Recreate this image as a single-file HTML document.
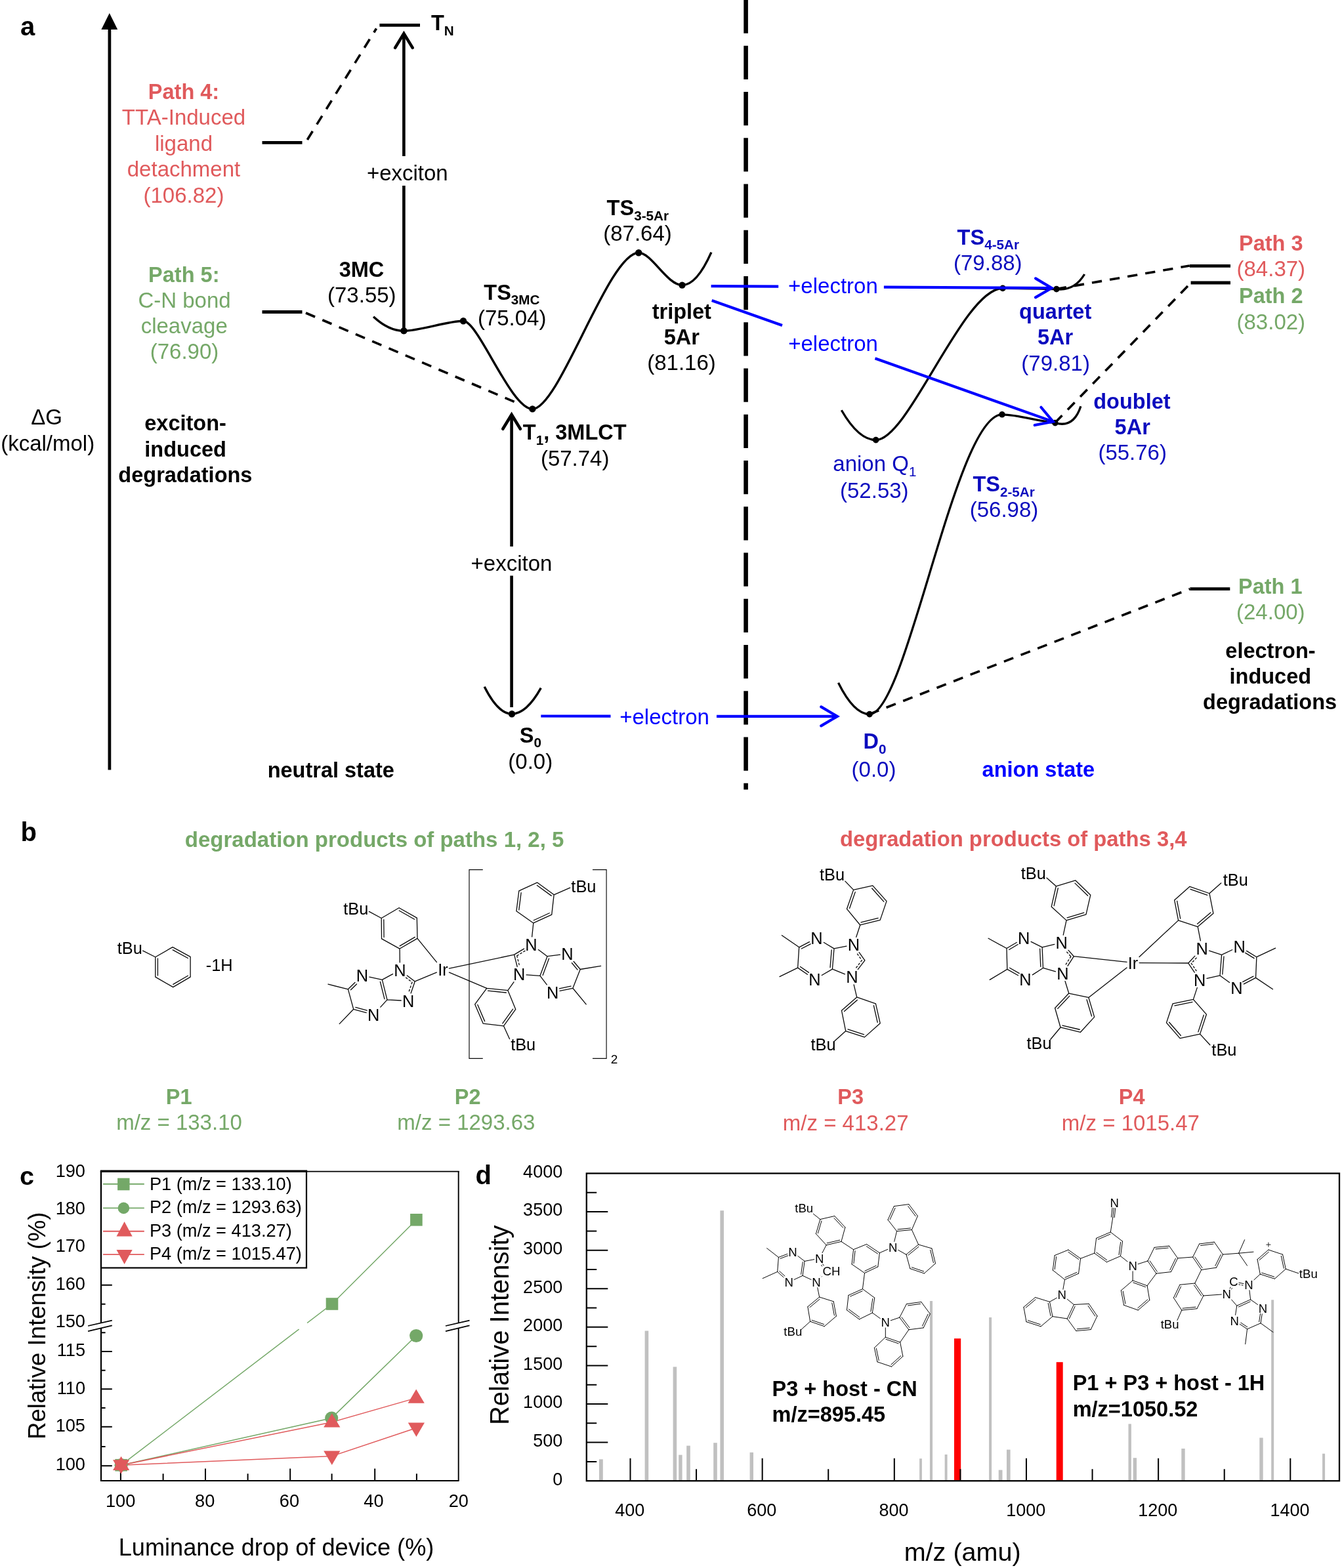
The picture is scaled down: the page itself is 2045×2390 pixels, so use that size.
<!DOCTYPE html>
<html><head><meta charset="utf-8"><title>Figure</title>
<style>html,body{margin:0;padding:0;background:#fff}svg{display:block}text{font-family:'Liberation Sans', Arial, Helvetica, sans-serif}</style>
</head><body>
<svg width="2045" height="2390" viewBox="0 0 2045 2390">
<rect width="2045" height="2390" fill="#fff"/>
<!-- panel a -->
<text x="31" y="53.5" font-size="40" font-weight="bold">a</text>
<line x1="166.9" y1="1173.5" x2="166.9" y2="42" stroke="#000" stroke-width="4.7"/>
<polygon points="166.8,20 154.4,45 179.2,45" fill="#000"/>
<text x="71" y="646.5" font-size="33" text-anchor="middle">&#916;G</text>
<text x="72.7" y="687.1" font-size="33" text-anchor="middle">(kcal/mol)</text>
<path d="M1136.6,0V50.8M1136.6,69.75V121.05M1136.6,140V191.3M1136.6,210.25V261.55M1136.6,280.5V331.8M1136.6,350.75V402.05M1136.6,421V472.3M1136.6,491.25V542.55M1136.6,561.5V612.8M1136.6,631.75V683.05M1136.6,702V753.3M1136.6,772.25V823.55M1136.6,842.5V893.8M1136.6,912.75V964.05M1136.6,983V1034.3M1136.6,1053.25V1104.55M1136.6,1123.5V1174.8M1136.6,1193.75V1203.5" fill="none" stroke="#000" stroke-width="6.6"/>
<line x1="578.4" y1="38.4" x2="640" y2="38.4" stroke="#000" stroke-width="4.8"/>
<line x1="399.5" y1="217.4" x2="460.5" y2="217.4" stroke="#000" stroke-width="4.8"/>
<line x1="399.5" y1="475.5" x2="460.5" y2="475.5" stroke="#000" stroke-width="4.8"/>
<line x1="1813" y1="405.4" x2="1875" y2="405.4" stroke="#000" stroke-width="4.8"/>
<line x1="1814.6" y1="431" x2="1875" y2="431" stroke="#000" stroke-width="4.8"/>
<line x1="1813.4" y1="897.7" x2="1874.3" y2="897.7" stroke="#000" stroke-width="4.8"/>
<line x1="468.3" y1="213" x2="573.5" y2="43.5" stroke="#000" stroke-width="3.6" stroke-dasharray="15.3 12.2"/>
<line x1="466" y1="477" x2="786.9" y2="613.7" stroke="#000" stroke-width="3.6" stroke-dasharray="15.3 12.2"/>
<line x1="1609.8" y1="440.5" x2="1812.8" y2="405" stroke="#000" stroke-width="3.6" stroke-dasharray="15.3 12.2"/>
<line x1="1607.8" y1="644.3" x2="1814.8" y2="431" stroke="#000" stroke-width="3.6" stroke-dasharray="15.3 12.2"/>
<line x1="1325" y1="1088.5" x2="1813.2" y2="897.7" stroke="#000" stroke-width="3.6" stroke-dasharray="15.3 12.2"/>
<path d="M569.1,482.7Q592.25,504.3 615.4,504.3C639.4,504.3 682,489.3 706,489.3C729,489.3 778.4,623.4 811.4,623.4C852.4,623.4 927.2,385.3 973.2,385.3C993.2,385.3 1016.5,434.6 1039.5,434.6Q1061.7,434.6 1083.9,384.6" fill="none" stroke="#000" stroke-width="3.4"/>
<path d="M738.2,1046.7Q759.1,1088.2 780,1088.2Q802.2,1088.2 824.3,1048.7" fill="none" stroke="#000" stroke-width="3.4"/>
<path d="M1282.3,625.2Q1308.5,670.6 1334.7,670.6C1384.7,670.6 1468,439.4 1528,439.4C1555,439.4 1583,440.2 1609.9,440.6Q1637,444 1652.6,418" fill="none" stroke="#000" stroke-width="3.3"/>
<path d="M1277.5,1040.7Q1301.3,1088.6 1325.1,1088.6C1381.8,1088.6 1456,631.8 1527,631.8C1550,631.8 1580,641.5 1607.9,644.6Q1636,653 1646.9,619.3" fill="none" stroke="#000" stroke-width="3.3"/>
<circle cx="615.4" cy="504.3" r="5.2" fill="#000"/>
<circle cx="706" cy="489.3" r="5.2" fill="#000"/>
<circle cx="811.4" cy="623.4" r="5.2" fill="#000"/>
<circle cx="973.2" cy="385.3" r="5.2" fill="#000"/>
<circle cx="1039.5" cy="434.6" r="5.2" fill="#000"/>
<circle cx="780" cy="1088.2" r="5.2" fill="#000"/>
<circle cx="1334.7" cy="670.6" r="4.8" fill="#000"/>
<circle cx="1528" cy="439.4" r="4.8" fill="#000"/>
<circle cx="1609.9" cy="440.6" r="4.8" fill="#000"/>
<circle cx="1325.1" cy="1088.6" r="4.8" fill="#000"/>
<circle cx="1527" cy="631.8" r="4.8" fill="#000"/>
<circle cx="1607.9" cy="644.6" r="4.8" fill="#000"/>
<line x1="615.4" y1="500" x2="615.4" y2="283" stroke="#000" stroke-width="4.6"/>
<line x1="615.4" y1="238" x2="615.4" y2="51.1" stroke="#000" stroke-width="4.6"/>
<polyline points="602.08,72.84 615.4,51.1 628.72,72.84" fill="none" stroke="#000" stroke-width="4.6" stroke-linejoin="miter" stroke-miterlimit="10" stroke-linecap="round"/>
<line x1="779.6" y1="1078" x2="779.6" y2="877.5" stroke="#000" stroke-width="4.6"/>
<line x1="779.6" y1="833" x2="779.6" y2="632" stroke="#000" stroke-width="4.6"/>
<polyline points="766.28,653.74 779.6,632 792.92,653.74" fill="none" stroke="#000" stroke-width="4.6" stroke-linejoin="miter" stroke-miterlimit="10" stroke-linecap="round"/>
<text x="620.8" y="274.7" font-size="33" text-anchor="middle">+exciton</text>
<text x="779.5" y="870.1" font-size="33" text-anchor="middle">+exciton</text>
<line x1="824.3" y1="1091.5" x2="930.5" y2="1091.6" stroke="#0000FF" stroke-width="4.2"/>
<line x1="1092" y1="1091.8" x2="1275.86" y2="1091.9" stroke="#0000FF" stroke-width="4.2"/>
<polyline points="1251.32,1077.41 1275.86,1091.9 1251.29,1106.34" fill="none" stroke="#0000FF" stroke-width="4.2" stroke-linejoin="miter" stroke-miterlimit="10" stroke-linecap="round"/>
<text x="944.2" y="1103.7" font-size="33" fill="#0000FF">+electron</text>
<line x1="1083.6" y1="436.2" x2="1186.2" y2="436.7" stroke="#0000FF" stroke-width="4.2"/>
<line x1="1346.9" y1="437.6" x2="1602.56" y2="438.98" stroke="#0000FF" stroke-width="4.2"/>
<polyline points="1578.08,424.38 1602.56,438.98 1577.93,453.31" fill="none" stroke="#0000FF" stroke-width="4.2" stroke-linejoin="miter" stroke-miterlimit="10" stroke-linecap="round"/>
<text x="1201.1" y="447" font-size="33" fill="#0000FF">+electron</text>
<line x1="1084.7" y1="457.9" x2="1192" y2="496.02" stroke="#0000FF" stroke-width="4.2"/>
<line x1="1333.5" y1="546.28" x2="1604.7" y2="642.62" stroke="#0000FF" stroke-width="4.2"/>
<polyline points="1586.4,620.76 1604.7,642.62 1576.72,648.03" fill="none" stroke="#0000FF" stroke-width="4.2" stroke-linejoin="miter" stroke-miterlimit="10" stroke-linecap="round"/>
<text x="1201.2" y="535" font-size="33" fill="#0000FF">+electron</text>
<text x="657" y="46.4" font-size="32.5" font-weight="bold">T<tspan font-size="20.7" dy="7.7">N</tspan></text>
<text x="551" y="422.3" font-size="32.5" font-weight="bold" text-anchor="middle">3MC</text>
<text x="551.3" y="461.3" font-size="33" text-anchor="middle">(73.55)</text>
<text x="737.3" y="456.5" font-size="32.5" font-weight="bold">TS<tspan font-size="20.7" dy="7.7">3MC</tspan></text>
<text x="780.2" y="495.8" font-size="33" text-anchor="middle">(75.04)</text>
<text x="924.6" y="327.9" font-size="32.5" font-weight="bold">TS<tspan font-size="20.7" dy="7.7">3-5Ar</tspan></text>
<text x="971.5" y="367.4" font-size="33" text-anchor="middle">(87.64)</text>
<text x="1038.8" y="486.3" font-size="32.5" font-weight="bold" text-anchor="middle">triplet</text>
<text x="1038.8" y="525.3" font-size="32.5" font-weight="bold" text-anchor="middle">5Ar</text>
<text x="1038.5" y="564.3" font-size="33" text-anchor="middle">(81.16)</text>
<text x="796.8" y="670.1" font-size="32.5" font-weight="bold">T<tspan font-size="20.7" dy="7.5">1</tspan><tspan dy="-7.5">, 3MLCT</tspan></text>
<text x="876.2" y="709.8" font-size="33" text-anchor="middle">(57.74)</text>
<text x="791.7" y="1131.5" font-size="32.5" font-weight="bold">S<tspan font-size="20.7" dy="7.2">0</tspan></text>
<text x="808.3" y="1171.7" font-size="33" text-anchor="middle">(0.0)</text>
<text x="504.3" y="1184.7" font-size="32.5" font-weight="bold" text-anchor="middle">neutral state</text>
<text x="282.6" y="656.1" font-size="32.5" font-weight="bold" text-anchor="middle">exciton-</text>
<text x="282.6" y="695.8" font-size="32.5" font-weight="bold" text-anchor="middle">induced</text>
<text x="282.4" y="734.8" font-size="32.5" font-weight="bold" text-anchor="middle">degradations</text>
<text x="1936" y="1002.5" font-size="32.5" font-weight="bold" text-anchor="middle">electron-</text>
<text x="1935.8" y="1041.9" font-size="32.5" font-weight="bold" text-anchor="middle">induced</text>
<text x="1935.1" y="1080.7" font-size="32.5" font-weight="bold" text-anchor="middle">degradations</text>
<text x="280" y="150.5" font-size="32.5" font-weight="bold" text-anchor="middle" fill="#E05A5C">Path 4:</text>
<text x="280" y="190" font-size="33" text-anchor="middle" fill="#E05A5C">TTA-Induced</text>
<text x="280" y="229.5" font-size="33" text-anchor="middle" fill="#E05A5C">ligand</text>
<text x="280" y="269" font-size="33" text-anchor="middle" fill="#E05A5C">detachment</text>
<text x="280" y="308.5" font-size="33" text-anchor="middle" fill="#E05A5C">(106.82)</text>
<text x="280.3" y="429.6" font-size="32.5" font-weight="bold" text-anchor="middle" fill="#75A868">Path 5:</text>
<text x="281" y="468.7" font-size="33" text-anchor="middle" fill="#75A868">C-N bond</text>
<text x="280.7" y="507.6" font-size="33" text-anchor="middle" fill="#75A868">cleavage</text>
<text x="281" y="546.7" font-size="33" text-anchor="middle" fill="#75A868">(76.90)</text>
<text x="1936.8" y="381.5" font-size="32.5" font-weight="bold" text-anchor="middle" fill="#E05A5C">Path 3</text>
<text x="1936.8" y="420.9" font-size="33" text-anchor="middle" fill="#E05A5C">(84.37)</text>
<text x="1936.8" y="462.4" font-size="32.5" font-weight="bold" text-anchor="middle" fill="#75A868">Path 2</text>
<text x="1936.8" y="502.4" font-size="33" text-anchor="middle" fill="#75A868">(83.02)</text>
<text x="1935.8" y="904.7" font-size="32.5" font-weight="bold" text-anchor="middle" fill="#75A868">Path 1</text>
<text x="1936.3" y="944.1" font-size="33" text-anchor="middle" fill="#75A868">(24.00)</text>
<text x="1458.6" y="372.7" font-size="32.5" font-weight="bold" fill="#0B0BBE">TS<tspan font-size="20.7" dy="7.7">4-5Ar</tspan></text>
<text x="1505.3" y="412.1" font-size="33" text-anchor="middle" fill="#0B0BBE">(79.88)</text>
<text x="1608.2" y="486.1" font-size="32.5" font-weight="bold" text-anchor="middle" fill="#0B0BBE">quartet</text>
<text x="1608" y="525.3" font-size="32.5" font-weight="bold" text-anchor="middle" fill="#0B0BBE">5Ar</text>
<text x="1608.6" y="564.9" font-size="33" text-anchor="middle" fill="#0B0BBE">(79.81)</text>
<text x="1724.9" y="623.2" font-size="32.5" font-weight="bold" text-anchor="middle" fill="#0B0BBE">doublet</text>
<text x="1725.7" y="661.8" font-size="32.5" font-weight="bold" text-anchor="middle" fill="#0B0BBE">5Ar</text>
<text x="1725.7" y="701.4" font-size="33" text-anchor="middle" fill="#0B0BBE">(55.76)</text>
<text x="1269.3" y="718.4" font-size="33" fill="#0B0BBE">anion Q<tspan font-size="20.7" dy="7.2">1</tspan></text>
<text x="1332.3" y="758.5" font-size="33" text-anchor="middle" fill="#0B0BBE">(52.53)</text>
<text x="1482.4" y="748.9" font-size="32.5" font-weight="bold" fill="#0B0BBE">TS<tspan font-size="20.7" dy="7.7">2-5Ar</tspan></text>
<text x="1530" y="788.1" font-size="33" text-anchor="middle" fill="#0B0BBE">(56.98)</text>
<text x="1315.5" y="1141.3" font-size="32.5" font-weight="bold" fill="#0B0BBE">D<tspan font-size="20.7" dy="7.2">0</tspan></text>
<text x="1331.5" y="1183.9" font-size="33" text-anchor="middle" fill="#0B0BBE">(0.0)</text>
<text x="1582.4" y="1183.9" font-size="32.5" font-weight="bold" text-anchor="middle" fill="#0000FF">anion state</text>
<!-- panel b -->
<text x="31.5" y="1281.7" font-size="40" font-weight="bold">b</text>
<text x="570.6" y="1290.5" font-size="33" font-weight="bold" text-anchor="middle" fill="#75A868">degradation products of paths 1, 2, 5</text>
<text x="1544.3" y="1290.3" font-size="32.8" font-weight="bold" text-anchor="middle" fill="#E05A5C">degradation products of paths 3,4</text>
<text x="272.6" y="1682.5" font-size="32.5" font-weight="bold" text-anchor="middle" fill="#75A868">P1</text>
<text x="273" y="1722.1" font-size="33" text-anchor="middle" fill="#75A868">m/z = 133.10</text>
<text x="712.7" y="1682.5" font-size="32.5" font-weight="bold" text-anchor="middle" fill="#75A868">P2</text>
<text x="710.4" y="1722.1" font-size="33" text-anchor="middle" fill="#75A868">m/z = 1293.63</text>
<text x="1296.2" y="1682.9" font-size="32.5" font-weight="bold" text-anchor="middle" fill="#E05A5C">P3</text>
<text x="1288.7" y="1722.9" font-size="33" text-anchor="middle" fill="#E05A5C">m/z = 413.27</text>
<text x="1724.7" y="1682.9" font-size="32.5" font-weight="bold" text-anchor="middle" fill="#E05A5C">P4</text>
<text x="1722.9" y="1722.9" font-size="33" text-anchor="middle" fill="#E05A5C">m/z = 1015.47</text>
<path d="M263.03,1443.65L290.1,1458.38M290.1,1458.38L290.1,1489.17M290.1,1489.17L263.71,1504.57M263.71,1504.57L236.8,1489.17M236.8,1489.17L236.8,1458.71M236.8,1458.71L263.03,1443.65M263.27,1447.88L286.42,1460.47M286.36,1487.19L263.82,1500.33M240.4,1486.94L240.4,1460.95M236.8,1458.71L217.68,1449.07" fill="none" stroke="#0a0a0a" stroke-width="1.3" stroke-linecap="round"/>
<g font-size="25.4" fill="#000">
<text x="178.76" y="1453.81">tBu</text>
<text x="313.79" y="1480.37">-1H</text>
</g>
<path d="M608.09,1383.79L635.33,1399.19M635.33,1399.19L636.01,1430.32M636.01,1430.32L609.1,1446.06M609.1,1446.06L581.52,1430.83M581.52,1430.83L581.18,1399.53M581.18,1399.53L608.09,1383.79M608.26,1388.02L631.62,1401.22M632.26,1428.34L609.21,1441.82M585.1,1428.56L584.81,1401.72M581.18,1399.53L562.4,1389.37M620.39,1486.9L632.28,1495.97M632.28,1495.97L626.12,1513.95M611.18,1525.01L589.98,1523.89M582.37,1493.43L598.49,1484.57M582.37,1493.43L562.86,1489.1M540.96,1497.44L530.42,1507.82M530.42,1507.82L538.71,1538.27M538.71,1538.27L558.22,1543.69M579.77,1535.1L589.98,1523.89M589.98,1523.89L582.37,1493.43M543.49,1500.01L534.54,1508.82M541.83,1535.4L559.19,1540.22M585.95,1522.6L579.42,1496.47M530.42,1507.82L499.97,1500.2M538.71,1538.27L517.23,1560.61M609.1,1446.06L609.32,1466.91M636.01,1430.32L665.47,1466.57M632.28,1495.97L665.39,1482.18" fill="none" stroke="#0a0a0a" stroke-width="1.3" stroke-linecap="round"/>
<path d="M618.21,1489.76L628.33,1497.48M628.15,1496.92L622.72,1512.78" fill="none" stroke="#0a0a0a" stroke-width="1.3" stroke-dasharray="3.6 2.16"/>
<g font-size="25.4" fill="#000">
<text x="523.15" y="1393.94">tBu</text>
<text x="609.44" y="1487.64" text-anchor="middle">N</text>
<text x="622.13" y="1534.68" text-anchor="middle">N</text>
<text x="551.91" y="1495.76" text-anchor="middle">N</text>
<text x="569.17" y="1555.83" text-anchor="middle">N</text>
<text x="674.92" y="1487.3" text-anchor="middle">Ir</text>
</g>
<path d="M818.75,1345.19L844.13,1363.81M844.13,1363.81L840.74,1394.09M840.74,1394.09L812.83,1406.95M812.83,1406.95L786.94,1388.68M786.94,1388.68L790.83,1357.88M790.83,1357.88L818.75,1345.19M818.42,1349.42L840.2,1365.39M837.21,1391.76L813.35,1402.75M790.79,1386.92L794.12,1360.55M844.13,1363.81L868.66,1353.15M798.49,1446.1L783.55,1455.18M783.55,1455.18L788.21,1473.49M802.11,1485.88L822.98,1487.33M833.98,1457.72L820.39,1447.6M833.98,1457.72L853.49,1455.22M874.16,1465.46L884.23,1477.51M884.23,1477.51L872.89,1506.28M872.89,1506.28L853.05,1510.31M833.28,1500.9L822.98,1487.33M822.98,1487.33L833.98,1457.72M871.39,1467.77L880.04,1478.11M869.99,1503.19L852.33,1506.78M827.13,1486.49L836.57,1461.06M884.23,1477.51L915.53,1472.44M872.89,1506.28L893.2,1530.81M812.83,1406.95L810.65,1427.81M773.91,1509.66L741.76,1506.28M741.76,1506.28L723.65,1530.81M723.65,1530.81L736.18,1560.08M736.18,1560.08L767.48,1563.81M767.48,1563.81L785.75,1538.43M785.75,1538.43L773.91,1509.66M771.31,1513.01L743.6,1510.09M727.84,1531.45L738.61,1556.62M765.86,1559.89L781.53,1538.13M782.98,1496.76L773.91,1509.66M767.48,1563.81L776.45,1583.6M684.46,1476.18L783.55,1455.18M684.46,1482.21L741.76,1506.28" fill="none" stroke="#0a0a0a" stroke-width="1.3" stroke-linecap="round"/>
<path d="M800.36,1449.17L787.33,1457.09M787.59,1456.45L791.7,1472.61" fill="none" stroke="#0a0a0a" stroke-width="1.3" stroke-dasharray="3.6 2.16"/>
<g font-size="25.4" fill="#000">
<text x="870.36" y="1359.92">tBu</text>
<text x="809.44" y="1448.53" text-anchor="middle">N</text>
<text x="791.17" y="1494.22" text-anchor="middle">N</text>
<text x="864.43" y="1462.92" text-anchor="middle">N</text>
<text x="842.1" y="1521.63" text-anchor="middle">N</text>
<text x="778.14" y="1600.69">tBu</text>
</g>
<path d="M735.8,1325.6H715V1613.3H735.8M903,1325.6H924.1V1613.3H903" fill="none" stroke="#0a0a0a" stroke-width="1.15"/>
<text x="930.8" y="1620.9" font-size="19">2</text>
<path d="M1300.59,1356.35L1329.86,1349.92M1329.86,1349.92L1351.02,1373.6M1351.02,1373.6L1341.2,1402.37M1341.2,1402.37L1310.74,1409.98M1310.74,1409.98L1290.44,1385.45M1290.44,1385.45L1300.59,1356.35M1328.67,1353.98L1346.84,1374.34M1338.16,1399.42L1312.04,1405.95M1294.57,1384.53L1303.26,1359.64M1300.59,1356.35L1287.9,1343.15M1309.18,1451.57L1317.85,1463.79M1317.85,1463.79L1307.31,1477.54M1287.45,1484.78L1268.44,1477.16M1270.98,1445.85L1289.98,1442.1M1270.98,1445.85L1255.36,1436.5M1233.47,1435.63L1217.68,1443.82M1217.68,1443.82L1215.65,1475.13M1215.65,1475.13L1230.42,1485.33M1252.32,1486.53L1268.44,1477.16M1268.44,1477.16L1270.98,1445.85M1235.13,1438.83L1221.32,1445.99M1219.53,1473.43L1232.47,1482.37M1265.04,1474.64L1267.21,1447.79M1217.68,1443.82L1191.46,1425.72M1215.65,1475.13L1188.07,1488.66M1310.74,1409.98L1304.74,1428.3M1305.67,1519.97L1334.43,1529.78M1334.43,1529.78L1341.2,1559.73M1341.2,1559.73L1317.51,1580.88M1317.51,1580.88L1288.75,1571.57M1288.75,1571.57L1282.49,1540.27M1282.49,1540.27L1305.67,1519.97M1306.36,1524.14L1286.54,1541.51M1331.41,1532.75L1337.2,1558.35M1316.5,1576.77L1291.98,1568.84M1301.14,1500.8L1305.67,1519.97M1288.75,1571.57L1271.83,1586.8" fill="none" stroke="#0a0a0a" stroke-width="1.3" stroke-linecap="round"/>
<path d="M1306.24,1453.65L1313.62,1464.05M1313.64,1463.37L1304.45,1475.35" fill="none" stroke="#0a0a0a" stroke-width="1.3" stroke-dasharray="3.6 2.16"/>
<g font-size="25.4" fill="#000">
<text x="1248.98" y="1342.3">tBu</text>
<text x="1300.93" y="1449.03" text-anchor="middle">N</text>
<text x="1298.39" y="1498.26" text-anchor="middle">N</text>
<text x="1244.42" y="1439.04" text-anchor="middle">N</text>
<text x="1241.37" y="1501.99" text-anchor="middle">N</text>
<text x="1235.45" y="1601.18">tBu</text>
</g>
<path d="M1609.29,1350.76L1638.9,1341.96M1638.9,1341.96L1661.74,1364.3M1661.74,1364.3L1654.97,1393.91M1654.97,1393.91L1625.03,1402.88M1625.03,1402.88L1602.18,1382.06M1602.18,1382.06L1609.29,1350.76M1637.98,1346.1L1657.63,1365.31M1651.8,1391.1L1626.13,1398.79M1606.19,1380.68L1612.31,1353.74M1609.29,1350.76L1594.91,1338.07M1628.07,1448.35L1636.36,1457.7M1636.36,1457.7L1626.95,1472.29M1608.49,1480.83L1589.49,1475.47M1588.14,1443.82L1606.8,1439.34M1588.14,1443.82L1571.17,1435.39M1549.27,1436.45L1533.99,1445.52M1533.99,1445.52L1534.84,1477.33M1534.84,1477.33L1551.47,1486.71M1573.37,1485.85L1589.49,1475.47M1589.49,1475.47L1588.14,1443.82M1551.11,1439.54L1537.75,1447.47M1538.55,1475.29L1553.24,1483.58M1585.8,1473.39L1584.64,1446.21M1533.99,1445.52L1506.07,1430.29M1534.84,1477.33L1508.27,1493.4M1625.03,1402.88L1620.25,1425.08M1628.75,1514.04L1658.87,1520.47M1658.87,1520.47L1667.66,1550.08M1667.66,1550.08L1646.51,1573.27M1646.51,1573.27L1616.06,1565.99M1616.06,1565.99L1607.6,1536.55M1607.6,1536.55L1628.75,1514.04M1629.84,1518.14L1611.75,1537.39M1656.05,1523.64L1663.58,1548.97M1645.18,1569.25L1619.06,1563.01M1623.04,1495.56L1628.75,1514.04M1616.06,1565.99L1600.83,1584.26M1636.36,1457.7L1717.01,1466.47M1658.87,1520.47L1717.01,1474.98" fill="none" stroke="#0a0a0a" stroke-width="1.3" stroke-linecap="round"/>
<path d="M1625.38,1450.74L1632.19,1458.42M1632.13,1457.62L1623.92,1470.34" fill="none" stroke="#0a0a0a" stroke-width="1.3" stroke-dasharray="3.6 2.16"/>
<g font-size="25.4" fill="#000">
<text x="1555.65" y="1339.76">tBu</text>
<text x="1617.75" y="1445.81" text-anchor="middle">N</text>
<text x="1619.44" y="1493.02" text-anchor="middle">N</text>
<text x="1560.22" y="1439.04" text-anchor="middle">N</text>
<text x="1562.42" y="1501.99" text-anchor="middle">N</text>
<text x="1564.45" y="1598.65">tBu</text>
<text x="1726.55" y="1476.61" text-anchor="middle">Ir</text>
</g>
<path d="M1813.03,1351.27L1842.98,1361.76M1842.98,1361.76L1848.9,1392.22M1848.9,1392.22L1825.21,1412.52M1825.21,1412.52L1795.6,1402.88M1795.6,1402.88L1789.68,1371.91M1789.68,1371.91L1813.03,1351.27M1813.95,1355.4L1839.68,1364.42M1844.86,1390.94L1824.56,1408.34M1798.72,1400.01L1793.63,1373.43M1842.98,1361.76L1860.74,1346.02M1820.88,1457.15L1810.83,1468.02M1810.83,1468.02L1820.28,1482.11M1839.04,1491.35L1859.05,1486.97M1861.59,1455.33L1842.59,1449.1M1861.59,1455.33L1877.72,1447.77M1899.61,1449.35L1914.89,1458.71M1914.89,1458.71L1913.54,1490.36M1913.54,1490.36L1895.38,1499.86M1873.49,1497.56L1859.05,1486.97M1859.05,1486.97L1861.59,1455.33M1897.73,1452.42L1911.11,1460.62M1909.89,1488.2L1893.71,1496.67M1862.82,1485.03L1865,1457.84M1914.89,1458.71L1943.65,1445.18M1913.54,1490.36L1939.42,1507.78M1825.21,1412.52L1829.37,1433.88M1795.6,1402.88L1736.09,1458.58M1736.09,1467.57L1810.83,1468.02M1818.44,1523.35L1838.41,1546.19M1838.41,1546.19L1828.6,1576.14M1828.6,1576.14L1798.14,1582.57M1798.14,1582.57L1777.5,1558.88M1777.5,1558.88L1787.14,1529.78M1787.14,1529.78L1818.44,1523.35M1816.98,1527.33L1790.05,1532.86M1834.29,1547.19L1825.87,1572.9M1799.39,1578.52L1781.68,1558.2M1824.3,1505.37L1818.44,1523.35M1828.6,1576.14L1843.82,1592.72" fill="none" stroke="#0a0a0a" stroke-width="1.3" stroke-linecap="round"/>
<path d="M1823.53,1459.59L1814.99,1468.83M1815.06,1467.87L1823.27,1480.1" fill="none" stroke="#0a0a0a" stroke-width="1.3" stroke-dasharray="3.6 2.16"/>
<g font-size="25.4" fill="#000">
<text x="1863.79" y="1349.92">tBu</text>
<text x="1831.64" y="1454.61" text-anchor="middle">N</text>
<text x="1828.09" y="1502.83" text-anchor="middle">N</text>
<text x="1888.66" y="1451.73" text-anchor="middle">N</text>
<text x="1884.43" y="1514.68" text-anchor="middle">N</text>
<text x="1846.36" y="1608.8">tBu</text>
</g>
<!-- panel c -->
<text x="29.9" y="1806.2" font-size="39.5" font-weight="bold">c</text>
<path d="M154,1958.8H170.8M154,2060H170.8M154,2117.2H170.8M154,2174.7H170.8M154,2234.3H170.8M154,1987.8H160.6M154,2031.2H160.6M154,2088.8H160.6M154,2146H160.6M154,2205H160.6M183.9,2257V2238.4M313,2257V2238.4M442.2,2257V2238.4M571.2,2257V2238.4M248.6,2257V2246.2M377.6,2257V2246.2M505.6,2257V2246.2M634.9,2257V2246.2" fill="none" stroke="#000" stroke-width="2"/>
<polyline points="184.6,2233.2 506,1987.5 634.4,1859.3" fill="none" stroke="#74A868" stroke-width="1.5"/>
<polyline points="184.6,2233.2 505.2,2161.6 634.2,2036" fill="none" stroke="#74A868" stroke-width="1.5"/>
<polyline points="184.6,2233.2 505.8,2167.7 634.2,2130.9" fill="none" stroke="#E05A5C" stroke-width="1.5"/>
<polyline points="184.6,2233.2 505.8,2219.5 634.4,2176.5" fill="none" stroke="#E05A5C" stroke-width="1.5"/>
<polygon points="456.94,2027.75 469.44,2018.25 466.76,2014.75 454.26,2024.25" fill="#fff"/>
<rect x="175.3" y="2223.9" width="18.6" height="18.6" fill="#74A868"/>
<rect x="496.7" y="1978.2" width="18.6" height="18.6" fill="#74A868"/>
<rect x="625.1" y="1850" width="18.6" height="18.6" fill="#74A868"/>
<circle cx="184.6" cy="2233.2" r="10.1" fill="#74A868"/>
<circle cx="505.2" cy="2161.6" r="10.1" fill="#74A868"/>
<circle cx="634.2" cy="2036" r="10.1" fill="#74A868"/>
<polygon points="184.6,2219.8 172,2241.1 197.2,2241.1" fill="#E05A5C"/>
<polygon points="505.8,2154.3 493.2,2175.6 518.4,2175.6" fill="#E05A5C"/>
<polygon points="634.2,2117.5 621.6,2138.8 646.8,2138.8" fill="#E05A5C"/>
<polygon points="184.6,2246.6 172,2225.3 197.2,2225.3" fill="#E05A5C"/>
<polygon points="505.8,2232.9 493.2,2211.6 518.4,2211.6" fill="#E05A5C"/>
<polygon points="634.4,2189.9 621.8,2168.6 647,2168.6" fill="#E05A5C"/>
<path d="M154,1785V2257H699.6" fill="none" stroke="#000" stroke-width="2.2"/>
<line x1="698.7" y1="2257" x2="698.7" y2="1785" stroke="#000" stroke-width="1.9"/>
<line x1="152.9" y1="1785.6" x2="699.7" y2="1785.6" stroke="#000" stroke-width="1.7"/>
<polygon points="144.1,2024.6 162.8,2016.4 162.8,2016.8 144.1,2025" fill="#fff"/>
<rect x="151.5" y="2016.6" width="5" height="8.2" fill="#fff"/>
<line x1="134.1" y1="2021" x2="170.8" y2="2012.6" stroke="#000" stroke-width="1.7"/>
<line x1="134.1" y1="2029.2" x2="170.8" y2="2020.4" stroke="#000" stroke-width="1.7"/>
<polygon points="689,2024.6 707.5,2016.4 707.5,2016.8 689,2025" fill="#fff"/>
<rect x="696.2" y="2016.6" width="5" height="8.2" fill="#fff"/>
<line x1="679" y1="2021" x2="715.5" y2="2012.6" stroke="#000" stroke-width="1.7"/>
<line x1="679" y1="2029.2" x2="715.5" y2="2020.4" stroke="#000" stroke-width="1.7"/>
<rect x="154" y="1785.4" width="313" height="147.1" fill="#fff" stroke="#000" stroke-width="2.2"/>
<line x1="152.9" y1="1785.2" x2="468.1" y2="1785.2" stroke="#000" stroke-width="3.2"/>
<line x1="157.1" y1="1804.8" x2="219.8" y2="1804.8" stroke="#74A868" stroke-width="1.9"/>
<rect x="179.1" y="1795.7" width="18.4" height="18.6" fill="#74A868"/>
<text x="227.9" y="1814.4" font-size="27.2">P1 (m/z = 133.10)</text>
<line x1="157.1" y1="1841.4" x2="219.8" y2="1841.4" stroke="#74A868" stroke-width="1.9"/>
<circle cx="188.4" cy="1841.4" r="8.8" fill="#74A868"/>
<text x="227.9" y="1849.4" font-size="27.2">P2 (m/z = 1293.63)</text>
<line x1="157.1" y1="1876.8" x2="219.8" y2="1876.8" stroke="#E05A5C" stroke-width="1.9"/>
<polygon points="189.6,1862.1 177.5,1884.4 201.7,1884.4" fill="#E05A5C"/>
<text x="227.9" y="1884.8" font-size="27.2">P3 (m/z = 413.27)</text>
<line x1="157.1" y1="1912.1" x2="219.8" y2="1912.1" stroke="#E05A5C" stroke-width="1.9"/>
<polygon points="189.6,1926.9 177.5,1904.9 201.7,1904.9" fill="#E05A5C"/>
<text x="227.9" y="1920" font-size="27.2">P4 (m/z = 1015.47)</text>
<text x="130" y="1793.7" font-size="27.2" text-anchor="end">190</text>
<text x="130" y="1851" font-size="27.2" text-anchor="end">180</text>
<text x="130" y="1908.3" font-size="27.2" text-anchor="end">170</text>
<text x="130" y="1965.6" font-size="27.2" text-anchor="end">160</text>
<text x="130" y="2023.1" font-size="27.2" text-anchor="end">150</text>
<text x="130" y="2066.8" font-size="27.2" text-anchor="end">115</text>
<text x="130" y="2124.6" font-size="27.2" text-anchor="end">110</text>
<text x="130" y="2182" font-size="27.2" text-anchor="end">105</text>
<text x="130" y="2241.4" font-size="27.2" text-anchor="end">100</text>
<text x="183.6" y="2297" font-size="27.2" text-anchor="middle">100</text>
<text x="312.2" y="2297" font-size="27.2" text-anchor="middle">80</text>
<text x="440.9" y="2297" font-size="27.2" text-anchor="middle">60</text>
<text x="569.4" y="2297" font-size="27.2" text-anchor="middle">40</text>
<text x="698.8" y="2297" font-size="27.2" text-anchor="middle">20</text>
<text x="421" y="2370.5" font-size="36.2" text-anchor="middle">Luminance drop of device (%)</text>
<text transform="translate(69,2020.8) rotate(-90)" font-size="36.7" text-anchor="middle">Relative Intensity (%)</text>
<!-- panel d -->
<text x="724.6" y="1805.3" font-size="40" font-weight="bold">d</text>
<rect x="913" y="2224.3" width="5.8" height="32.9" fill="#C0C0C0"/>
<rect x="982.6" y="2028.5" width="5.6" height="228.7" fill="#C0C0C0"/>
<rect x="1025.6" y="2083.4" width="5.6" height="173.8" fill="#C0C0C0"/>
<rect x="1034.2" y="2217.6" width="5.4" height="39.6" fill="#C0C0C0"/>
<rect x="1046.2" y="2203.6" width="5.6" height="53.6" fill="#C0C0C0"/>
<rect x="1087.2" y="2199.2" width="5.6" height="58" fill="#C0C0C0"/>
<rect x="1097.4" y="1845.2" width="5.6" height="412" fill="#C0C0C0"/>
<rect x="1142.6" y="2213.8" width="5.4" height="43.4" fill="#C0C0C0"/>
<rect x="1401.1" y="2223.2" width="3.8" height="34" fill="#C0C0C0"/>
<rect x="1416.95" y="1983" width="4.1" height="274.2" fill="#C0C0C0"/>
<rect x="1439.65" y="2217" width="3.9" height="40.2" fill="#C0C0C0"/>
<rect x="1507.1" y="2008" width="4" height="249.2" fill="#C0C0C0"/>
<rect x="1521.7" y="2240.6" width="5.8" height="16.6" fill="#C0C0C0"/>
<rect x="1534" y="2209.6" width="5.6" height="47.6" fill="#C0C0C0"/>
<rect x="1719.5" y="2170.4" width="4.4" height="86.8" fill="#C0C0C0"/>
<rect x="1726.7" y="2222.2" width="5.4" height="35" fill="#C0C0C0"/>
<rect x="1800.3" y="2208" width="5.4" height="49.2" fill="#C0C0C0"/>
<rect x="1919.3" y="2191.5" width="5.4" height="65.7" fill="#C0C0C0"/>
<rect x="1937.2" y="1981.3" width="4" height="275.9" fill="#C0C0C0"/>
<rect x="2015.1" y="2215.7" width="4" height="41.5" fill="#C0C0C0"/>
<rect x="1454" y="2040.2" width="10.2" height="217" fill="#FF0000"/>
<rect x="1609.7" y="2076.2" width="10" height="181" fill="#FF0000"/>
<path d="M893.8,2198.61h32.5M893.8,2140.02h32.5M893.8,2081.44h32.5M893.8,2022.85h32.5M893.8,1964.26h32.5M893.8,1905.67h32.5M893.8,1847.09h32.5M893.8,2227.91h15.4M893.8,2169.32h15.4M893.8,2110.73h15.4M893.8,2052.14h15.4M893.8,1993.56h15.4M893.8,1934.97h15.4M893.8,1876.38h15.4M893.8,1817.79h15.4M960.5,2257.2v-34.5M1161.66,2257.2v-34.5M1362.82,2257.2v-34.5M1563.98,2257.2v-34.5M1765.14,2257.2v-34.5M1966.3,2257.2v-34.5M1061.08,2257.2v-18M1262.24,2257.2v-18M1463.4,2257.2v-18M1664.56,2257.2v-18M1865.72,2257.2v-18" fill="none" stroke="#000" stroke-width="2"/>
<rect x="893.8" y="1788.5" width="1147.2" height="468.7" fill="none" stroke="#000" stroke-width="2.3"/>
<text x="857.2" y="2263.6" font-size="27" text-anchor="end">0</text>
<text x="857.2" y="2205.01" font-size="27" text-anchor="end">500</text>
<text x="857.2" y="2146.42" font-size="27" text-anchor="end">1000</text>
<text x="857.2" y="2087.84" font-size="27" text-anchor="end">1500</text>
<text x="857.2" y="2029.25" font-size="27" text-anchor="end">2000</text>
<text x="857.2" y="1970.66" font-size="27" text-anchor="end">2500</text>
<text x="857.2" y="1912.08" font-size="27" text-anchor="end">3000</text>
<text x="857.2" y="1853.49" font-size="27" text-anchor="end">3500</text>
<text x="857.2" y="1794.9" font-size="27" text-anchor="end">4000</text>
<text x="959.7" y="2311.2" font-size="27" text-anchor="middle">400</text>
<text x="1160.86" y="2311.2" font-size="27" text-anchor="middle">600</text>
<text x="1362.02" y="2311.2" font-size="27" text-anchor="middle">800</text>
<text x="1563.18" y="2311.2" font-size="27" text-anchor="middle">1000</text>
<text x="1764.34" y="2311.2" font-size="27" text-anchor="middle">1200</text>
<text x="1965.5" y="2311.2" font-size="27" text-anchor="middle">1400</text>
<text x="1466.7" y="2379.2" font-size="39.6" text-anchor="middle">m/z (amu)</text>
<text transform="translate(774.6,2019.8) rotate(-90)" font-size="40" text-anchor="middle">Relative Intensity</text>
<text x="1176.5" y="2127.8" font-size="32.5" font-weight="bold">P3 + host - CN</text>
<text x="1176.5" y="2167" font-size="32.5" font-weight="bold">m/z=895.45</text>
<text x="1634.7" y="2119.4" font-size="32.5" font-weight="bold">P1 + P3 + host - 1H</text>
<text x="1634.7" y="2158.9" font-size="32.5" font-weight="bold">m/z=1050.52</text>
<path d="M1249.83,1858.58L1271.83,1853.5M1271.83,1853.5L1287.9,1870.76M1287.9,1870.76L1281.98,1892.42M1281.98,1892.42L1259.14,1897.83M1259.14,1897.83L1243.4,1880.58M1243.4,1880.58L1249.83,1858.58M1270.99,1856.57L1284.79,1871.38M1279.73,1890.18L1260.14,1894.82M1246.46,1879.73L1251.95,1860.94M1249.83,1858.58L1239.34,1850.12M1253.76,1926.66L1255.21,1929.08M1252.3,1945.78L1252.09,1946M1236.06,1950.43L1223.1,1944.37M1226.14,1922.37L1240.63,1919.65M1226.14,1922.37L1215.88,1914.49M1199.85,1911.35L1186.38,1916.45M1186.38,1916.45L1184.69,1938.44M1184.69,1938.44L1194.1,1946.94M1210.13,1950.43L1223.1,1944.37M1223.1,1944.37L1226.14,1922.37M1200.81,1913.88L1188.9,1918.38M1187.74,1937.56L1195.91,1944.94M1220.65,1942.34L1223.24,1923.66M1186.38,1916.45L1168.61,1902.57M1184.69,1938.44L1162.18,1948.6M1259.14,1897.83L1253.05,1909.62M1248.65,1977.02L1270.14,1983.79M1270.14,1983.79L1274.37,2006.13M1274.37,2006.13L1256.26,2021.69M1256.26,2021.69L1234.6,2014.25M1234.6,2014.25L1230.88,1991.74M1230.88,1991.74L1248.65,1977.02M1249.08,1980.17L1233.89,1992.75M1267.79,1985.94L1271.4,2004.98M1255.56,2018.59L1237.06,2012.24M1245.78,1962.7L1248.65,1977.02M1234.6,2014.25L1220.73,2026.77M1300.59,1904.6L1320.56,1896.48M1320.56,1896.48L1340.36,1909.68M1340.36,1909.68L1337.82,1930.83M1337.82,1930.83L1317.51,1940.47M1317.51,1940.47L1298.05,1926.94M1298.05,1926.94L1300.59,1904.6M1303.09,1906.57L1300.93,1925.58M1320.45,1899.66L1337.46,1911M1335.15,1929.11L1317.87,1937.32M1281.98,1892.42L1300.59,1904.6M1314.47,1964.67L1332.74,1978.21M1332.74,1978.21L1329.36,2001.05M1329.36,2001.05L1309.39,2010.86M1309.39,2010.86L1290.44,1996.82M1290.44,1996.82L1292.98,1974.31M1292.98,1974.31L1314.47,1964.67M1314.05,1967.82L1295.61,1976.09M1329.82,1979.47L1326.93,1999M1309.65,2007.7L1293.39,1995.65M1317.51,1940.47L1314.47,1964.67M1340.36,1909.68L1352.64,1904.35M1366.58,1876.68L1353.05,1859.26M1353.05,1859.26L1362.35,1838.61M1362.35,1838.61L1384.86,1835.57M1384.86,1835.57L1398.39,1853.5M1398.39,1853.5L1389.42,1874.48M1389.42,1874.48L1366.58,1876.68M1367.99,1873.84L1387.5,1871.96M1356.2,1858.84L1364.13,1841.25M1383.71,1838.53L1395.23,1853.79M1380.96,1912.22L1399.58,1896.99M1399.58,1896.99L1419.88,1902.91M1419.88,1902.91L1425.47,1925.75M1425.47,1925.75L1408.38,1940.98M1408.38,1940.98L1386.89,1933.71M1386.89,1933.71L1380.96,1912.22M1383.97,1913.25L1399.99,1900.14M1417.66,1905.18L1422.45,1924.77M1407.66,1937.89L1389.34,1931.69M1362.74,1892.36L1366.58,1876.68M1368.68,1905.36L1380.96,1912.22M1389.42,1874.48L1399.58,1896.99M1329.36,2001.05L1341.31,2009.66M1370.81,2008.16L1381.47,1987.51M1381.47,1987.51L1403.81,1984.47M1403.81,1984.47L1417.34,2002.74M1417.34,2002.74L1407.19,2023.89M1407.19,2023.89L1384.86,2026.77M1384.86,2026.77L1370.81,2008.16M1373.98,2007.87L1386,2023.81M1383.5,1989.96L1402.51,1987.37M1414.18,2003.08L1405.48,2021.21M1349.32,2038.27L1371.66,2045.89M1371.66,2045.89L1375.89,2067.38M1375.89,2067.38L1358.46,2083.11M1358.46,2083.11L1336.97,2075.84M1336.97,2075.84L1332.4,2054.35M1332.4,2054.35L1349.32,2038.27M1350.04,2041.37L1369.2,2047.9M1372.84,2066.5L1357.89,2079.99M1339.26,2073.64L1335.39,2055.42M1357.34,2012.72L1370.81,2008.16M1349.32,2023.95L1349.32,2038.27M1384.86,2026.77L1371.66,2045.89" fill="none" stroke="#0a0a0a" stroke-width="1" stroke-linecap="round"/>
<path d="M1251.44,1928.05L1252.89,1930.47M1250.38,1943.89L1250.17,1944.11" fill="none" stroke="#0a0a0a" stroke-width="1" stroke-dasharray="2.7 1.62"/>
<g font-size="18.6" fill="#000">
<text x="1211.25" y="1848.43">tBu</text>
<text x="1248.65" y="1924.8" text-anchor="middle">N</text>
<text x="1244.08" y="1960.84" text-anchor="middle">N</text>
<text x="1260.32" y="1944.26" text-anchor="middle">C</text>
<text x="1207.87" y="1914.98" text-anchor="middle">N</text>
<text x="1202.12" y="1960.84" text-anchor="middle">N</text>
<text x="1267.09" y="1943.52">H</text>
<text x="1194.33" y="2035.74">tBu</text>
<text x="1360.66" y="1907.54" text-anchor="middle">N</text>
<text x="1349.32" y="2022.09" text-anchor="middle">N</text>
</g>
<path d="M1692.28,1878.02L1710.56,1892.06M1710.56,1892.06L1707.51,1914.57M1707.51,1914.57L1686.36,1923.71M1686.36,1923.71L1667.75,1910.17M1667.75,1910.17L1670.63,1887.33M1670.63,1887.33L1692.28,1878.02M1691.81,1881.16L1673.23,1889.15M1707.66,1893.36L1705.06,1912.55M1686.6,1920.54L1670.69,1908.97M1692.28,1878.02L1695.84,1855.35M1695.84,1855.35L1697.31,1841.36M1693.45,1855.1L1694.92,1841.11M1698.22,1855.6L1699.7,1841.61M1646.6,1918.29L1627.99,1905.09M1627.99,1905.09L1607.17,1913.55M1607.17,1913.55L1604.3,1936.06M1604.3,1936.06L1622.57,1950.44M1622.57,1950.44L1643.55,1941.13M1643.55,1941.13L1646.6,1918.29M1643.67,1919.53L1627.79,1908.26M1609.64,1915.56L1607.19,1934.74M1623.01,1947.29L1640.93,1939.34M1667.75,1910.17L1646.6,1918.29M1622.57,1950.44L1619.89,1965.27M1599.56,1984.28L1577.56,1977.51M1577.56,1977.51L1559.97,1992.4M1559.97,1992.4L1564.03,2014.74M1564.03,2014.74L1586.02,2021.84M1586.02,2021.84L1603.96,2006.62M1603.96,2006.62L1599.56,1984.28M1597.23,1986.45L1600.99,2005.5M1578.03,1980.66L1562.99,1993.38M1566.45,2012.68L1585.26,2018.76M1636.45,1988.51L1659.29,1987.33M1659.29,1987.33L1671.98,2005.94M1671.98,2005.94L1662.17,2026.58M1662.17,2026.58L1639.83,2028.61M1639.83,2028.61L1626.29,2010M1626.29,2010L1636.45,1988.51M1638.17,1991.18L1629.45,2009.64M1658,1990.23L1668.81,2006.08M1660.25,2024.04L1641.25,2025.77M1610.33,1978.27L1599.56,1984.28M1626.36,1980.31L1636.45,1988.51M1603.96,2006.62L1626.29,2010M1707.51,1914.57L1718.11,1922.95M1748.97,1922.01L1759.12,1901.37M1759.12,1901.37L1781.62,1899.17M1781.62,1899.17L1794.65,1917.78M1794.65,1917.78L1784.5,1938.6M1784.5,1938.6L1762,1941.13M1762,1941.13L1748.97,1922.01M1752.14,1921.88L1763.29,1938.23M1761.05,1903.89L1780.22,1902.02M1791.49,1918.1L1782.81,1935.91M1726.13,1951.79L1748.12,1959.75M1748.12,1959.75L1751.84,1981.74M1751.84,1981.74L1734.25,1996.97M1734.25,1996.97L1712.59,1989.36M1712.59,1989.36L1708.36,1967.02M1708.36,1967.02L1726.13,1951.79M1726.78,1954.9L1745.63,1961.72M1748.81,1980.8L1733.75,1993.83M1714.93,1987.21L1711.32,1968.16M1734.14,1926.74L1748.97,1922.01M1726.13,1937.81L1726.13,1951.79M1762,1941.13L1748.12,1959.75" fill="none" stroke="#0a0a0a" stroke-width="1" stroke-linecap="round"/>
<g font-size="18.6" fill="#000">
<text x="1698.21" y="1839.5" text-anchor="middle">N</text>
<text x="1618.34" y="1980.45" text-anchor="middle">N</text>
<text x="1726.13" y="1935.95" text-anchor="middle">N</text>
</g>
<path d="M1817.64,1916.06L1827.59,1896.01M1827.59,1896.01L1850.33,1893.16M1850.33,1893.16L1863.44,1912.12M1863.44,1912.12L1853.49,1932.17M1853.49,1932.17L1830.75,1935.49M1830.75,1935.49L1817.64,1916.06M1829.59,1898.48L1849.01,1896.05M1860.28,1912.42L1851.82,1929.47M1832.05,1932.59L1820.82,1915.94M1794.65,1917.78L1817.64,1916.06M1863.44,1912.12L1887.61,1910.22M1887.61,1910.22L1896.61,1889.69M1887.61,1910.22L1910.03,1908.17M1887.61,1910.22L1900.56,1929.17M1820.8,1956.02L1797.9,1958.23M1797.9,1958.23L1788.43,1978.13M1788.43,1978.13L1800.75,1997.08M1800.75,1997.08L1823.96,1994.71M1823.96,1994.71L1833.91,1974.97M1833.91,1974.97L1820.8,1956.02M1819.53,1958.93L1830.74,1975.13M1799.62,1960.9L1791.58,1977.78M1802.14,1994.23L1822.02,1992.2M1830.75,1935.49L1820.8,1956.02M1800.75,1997.08L1793.95,2012.4M1833.91,1974.97L1861.27,1973.02M1874.11,1963.93L1875.2,1962.01M1888.04,1955.15L1894.91,1956.57M1903.94,1966.75L1905.61,1980.81M1876.67,1980.96L1884.76,1990.29M1905.61,1980.81L1916.54,1988.56M1923.25,2002.76L1921.09,2016.82M1921.09,2016.82L1900.56,2025.82M1900.56,2025.82L1889.31,2018.26M1882.6,2004.36L1884.76,1990.29M1884.76,1990.29L1905.61,1980.81M1920.58,2002.35L1918.67,2014.76M1900.67,2022.65L1890.81,2016.02M1887.4,1992.06L1905.2,1983.97M1921.09,2016.82L1940.04,2030.56M1900.56,2025.82L1897.71,2048.72M1920.3,1942.12L1916.03,1919.7M1916.03,1919.7L1932.93,1905.01M1932.93,1905.01L1954.57,1912.12M1954.57,1912.12L1959.31,1934.23M1959.31,1934.23L1942.41,1949.23M1942.41,1949.23L1920.3,1942.12M1919.07,1920.64L1933.44,1908.15M1952.28,1914.32L1956.31,1933.16M1941.64,1946.15L1922.72,1940.06M1910.94,1950.8L1920.3,1942.12M1959.31,1934.23L1978.73,1940.86" fill="none" stroke="#0a0a0a" stroke-width="1" stroke-linecap="round"/>
<path d="M1876.46,1965.26L1877.55,1963.34M1887.49,1957.8L1894.36,1959.22" fill="none" stroke="#0a0a0a" stroke-width="1" stroke-dasharray="2.7 1.62"/>
<g font-size="18.6" fill="#000">
<text x="1768.69" y="2025.03">tBu</text>
<text x="1869.29" y="1979.1" text-anchor="middle">N</text>
<text x="1880.03" y="1960.15" text-anchor="middle">C</text>
<text x="1902.92" y="1964.89" text-anchor="middle">N</text>
<text x="1924.56" y="2000.9" text-anchor="middle">N</text>
<text x="1881.29" y="2019.53" text-anchor="middle">N</text>
<text x="1979.84" y="1947.65">tBu</text>
</g>
<path d="M1929.43,1897.11h7M1932.93,1893.61v7" fill="none" stroke="#222" stroke-width="1"/>
</svg></body></html>
